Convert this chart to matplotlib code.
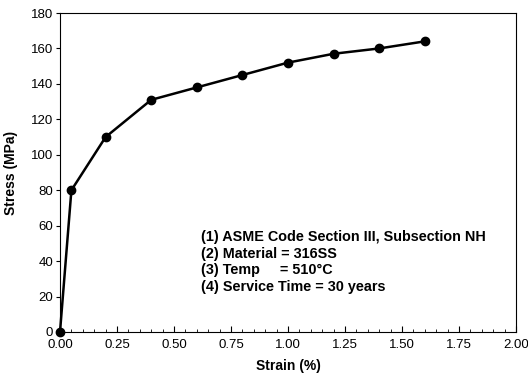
import matplotlib
matplotlib.use("Agg")
import matplotlib.pyplot as plt
from matplotlib.ticker import MultipleLocator

plt.rcParams['font.family'] = ['Liberation Sans', 'DejaVu Sans']

strain = [0.0, 0.05, 0.2, 0.4, 0.6, 0.8, 1.0, 1.2, 1.4, 1.6]
stress = [0, 80, 110, 131, 138, 145, 152, 157, 160, 164]

notes = ["(1) ASME Code Section III, Subsection NH",
         "(2) Material = 316SS",
         "(3) Temp     = 510\u00b0C",
         "(4) Service Time = 30 years"]

fig = plt.figure(figsize=(5.28, 3.82), dpi=100)
ax = fig.add_axes([60 / 528, 50 / 382, 456 / 528, 319 / 382])

ax.plot(strain, stress, color='black', lw=1.8, marker='o', ms=6, clip_on=False, zorder=5)

ax.set_xlim(0, 2.0)
ax.set_ylim(0, 180)
ax.xaxis.set_minor_locator(MultipleLocator(0.05))
ax.yaxis.set_major_locator(MultipleLocator(20))
ax.set_xticks([0, 0.25, 0.5, 0.75, 1.0, 1.25, 1.5, 1.75, 2.0])
ax.set_xticklabels(["0.00", "0.25", "0.50", "0.75", "1.00", "1.25", "1.50", "1.75", "2.00"])
ax.tick_params(axis='x', which='major', direction='in', length=4, labelsize=9.5, pad=5)
ax.tick_params(axis='x', which='minor', direction='in', length=2)
ax.tick_params(axis='y', which='major', direction='out', length=3, labelsize=9.5, pad=2)
for s in ax.spines.values():
    s.set_linewidth(0.8)

ax.set_xlabel("Strain (%)", fontsize=10, fontweight='bold', labelpad=6)
ax.set_ylabel("Stress (MPa)", fontsize=10, fontweight='bold', labelpad=9)

for i, t in enumerate(notes):
    ax.text(0.62, 53.5 - i * 9.3, t, fontsize=10.4, fontweight='bold', va='center', ha='left')

fig.savefig("out.png", dpi=100)
